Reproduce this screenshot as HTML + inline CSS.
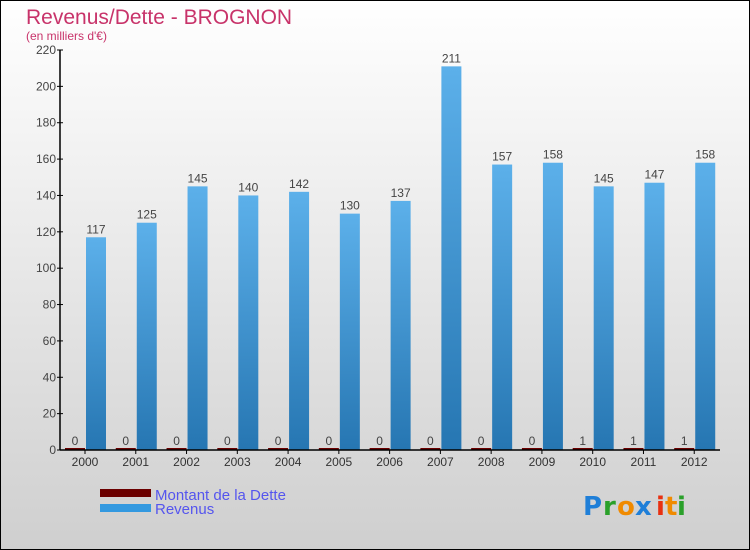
<!DOCTYPE html>
<html><head><meta charset="utf-8"><style>
body{margin:0;width:750px;height:550px;overflow:hidden}
svg{display:block;font-family:"Liberation Sans",sans-serif}
</style></head><body>
<svg id="chart" width="750" height="550">
<defs>
<linearGradient id="bg" x1="0" y1="0" x2="0" y2="1"><stop offset="0" stop-color="#ffffff"/><stop offset="1" stop-color="#cfcfcf"/></linearGradient>
<linearGradient id="blue" x1="0" y1="0" x2="0" y2="1"><stop offset="0" stop-color="#5cb0ea"/><stop offset="1" stop-color="#2676b2"/></linearGradient>
</defs>
<rect x="0.5" y="0.5" width="749" height="549" fill="url(#bg)" stroke="#000"/>
<text x="26" y="24" font-size="21" fill="#c8336a">Revenus/Dette - BROGNON</text>
<text x="26" y="40" font-size="12" fill="#c8336a">(en milliers d'€)</text>
<g id="grid"></g><g id="bars"></g><g id="axes"></g>
<g>
<rect x="100" y="489" width="51" height="8" fill="#6b0000"/>
<text x="155" y="500" font-size="15" fill="#5555ee">Montant de la Dette</text>
<rect x="100" y="504" width="51" height="8" fill="#3399e0"/>
<text x="155" y="514" font-size="15" fill="#5555ee">Revenus</text>
</g>
<g font-size="26" font-weight="bold" font-family="'DejaVu Sans',sans-serif">
<text x="583" y="515" fill="#1f7fd8">P</text><text x="603" y="515" fill="#2aa02a">r</text><text x="617" y="515" fill="#f08a00">o</text><text x="635" y="515" fill="#1f7fd8">x</text><text x="656" y="515" fill="#e83010">i</text><text x="665" y="515" fill="#f08a00">t</text><text x="677" y="515" fill="#2aa02a">i</text>
</g>
</svg>
<script>
const years=["2000","2001","2002","2003","2004","2005","2006","2007","2008","2009","2010","2011","2012"];
const dette=[0,0,0,0,0,0,0,0,0,0,1,1,1];
const revenus=[117,125,145,140,142,130,137,211,157,158,145,147,158];
const yTicks=[0,20,40,60,80,100,120,140,160,180,200,220];
const NS="http://www.w3.org/2000/svg";
const x0=60,x1=720,yb=450,yt=50,ymax=220;
const gw=(x1-x0)/years.length;
const y=v=>yb-(v/ymax)*(yb-yt);
const bars=document.getElementById('bars'),axes=document.getElementById('axes');
function mk(t,a,p){const e=document.createElementNS(NS,t);for(const k in a)e.setAttribute(k,a[k]);p.appendChild(e);return e;}
years.forEach((yr,i)=>{
 const gx=x0+i*gw+5;
 const dh=Math.max(yb-y(dette[i]),2);
 const d=mk('rect',{x:gx,y:yb-dh,width:20,height:dh,fill:'#6b0000'},bars);
 
 
 const dl=mk('text',{x:gx+10,y:yb-5,'font-size':12,fill:'#444','text-anchor':'middle'},bars);dl.textContent=dette[i];
 
 
 const r=mk('rect',{x:gx+21,y:y(revenus[i]),width:20,height:yb-y(revenus[i]),fill:'url(#blue)'},bars);
 
 
 const rl=mk('text',{x:gx+31,y:y(revenus[i])-4,'font-size':12,fill:'#444','text-anchor':'middle'},bars);rl.textContent=revenus[i];
 
 
 const tx=gx+20;
 mk('line',{x1:tx,y1:yb,x2:tx,y2:yb+4,stroke:'#000'},axes);
 const xl=mk('text',{x:tx,y:yb+16,'font-size':12,fill:'#333','text-anchor':'middle'},axes);xl.textContent=yr;
 
 
});
yTicks.forEach(v=>{
 mk('line',{x1:x0-3,y1:y(v),x2:x0+3,y2:y(v),stroke:'#000'},axes);
 const t=mk('text',{x:x0-4,y:y(v)+4,'font-size':12,fill:'#444','text-anchor':'end'},axes);t.textContent=v;
 
 
});
const ya=mk('line',{x1:x0,y1:yt,x2:x0,y2:yb,stroke:'#000','stroke-width':1.5},axes);


const xa=mk('line',{x1:x0,y1:yb,x2:x1,y2:yb,stroke:'#000','stroke-width':1.5},axes);


</script>
</body></html>
